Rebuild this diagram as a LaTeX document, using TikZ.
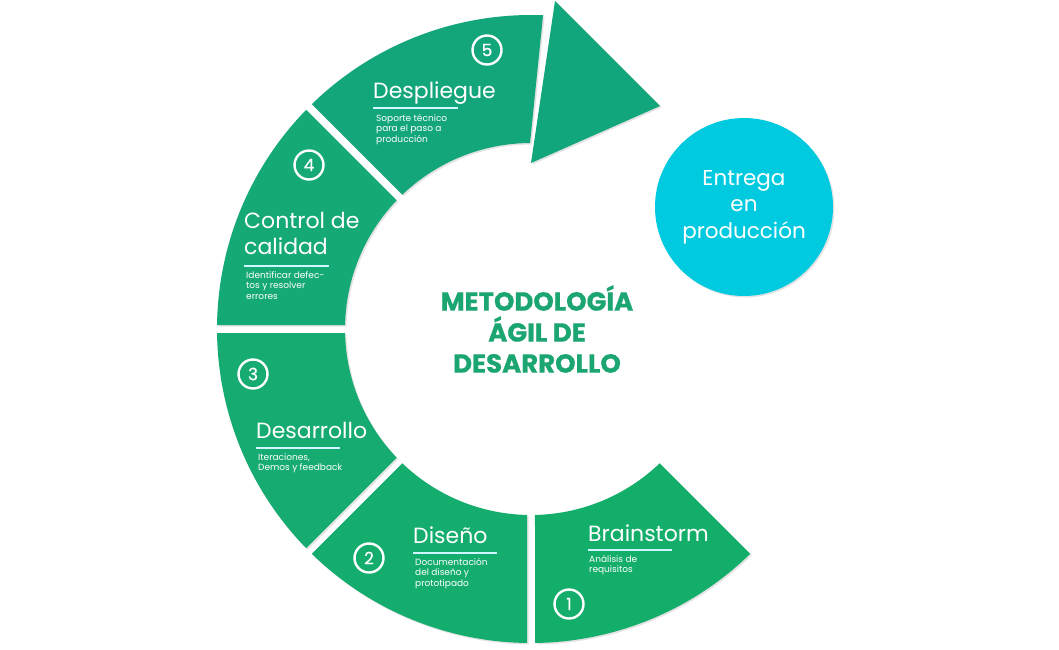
\documentclass[tikz,border=0pt]{standalone}
\usepackage{fontspec}
\setmainfont{Poppins}
\newfontfamily\heavyfont{Poppins}[BoldFeatures={FakeBold=0.7}]
\newfontfamily\numfont{Poppins}[FakeBold=0.6]
\usetikzlibrary{calc,shadows}

\definecolor{segone}{HTML}{14AE6B}
\definecolor{segtwo}{HTML}{14AD6E}
\definecolor{segthree}{HTML}{15AB71}
\definecolor{segfour}{HTML}{15A975}
\definecolor{segfive}{HTML}{13A67B}
\definecolor{arrowgreen}{HTML}{12A67D}
\definecolor{bubblecyan}{HTML}{00CADF}
\definecolor{titlegreen}{HTML}{1BA570}
\definecolor{rulecyan}{HTML}{CFF7FF}

\tikzset{
  segshadow/.style={drop shadow={opacity=0.22,shadow xshift=1.5pt,shadow yshift=-1.5pt}},
  numring/.style={circle,draw=white,line width=2.4pt,minimum size=29pt,inner sep=0pt,
    text=white,font=\numfont\fontsize{17}{17}\selectfont},
  steptitle/.style={anchor=base west,inner sep=0pt,text=white,align=left,
    font=\fontsize{22}{26}\selectfont},
  stepnote/.style={anchor=north west,inner sep=0pt,align=left,text=white,
    font=\fontsize{9}{10.5}\selectfont},
  stepline/.style={draw=rulecyan,line width=1.8pt},
}

\begin{document}
\begin{tikzpicture}[x=1pt,y=1pt]
  \useasboundingbox (0,0) rectangle (1059,-649);
  \fill[white] (0,0) rectangle (1059,-649);
  \coordinate (O) at (531,-329);
  \def\ringout{314}
  \def\ringin{186}

  % ring pieces 1 to 4
  \foreach \a/\b/\col in {270/315/segone, 225/270/segtwo, 180/225/segthree, 135/180/segfour} {
    \fill[\col,segshadow] ($(O)+(\a+0.73:\ringout)$)
      arc[start angle=\a+0.73, end angle=\b-0.73, radius=\ringout]
      -- ($(O)+(\b-1.23:\ringin)$)
      arc[start angle=\b-1.23, end angle=\a+1.23, radius=\ringin] -- cycle;
  }
  % piece 5 and the arrow head
  \fill[segfive,segshadow] ($(O)+(87.8:\ringout)$) -- ($(O)+(90.3:\ringin)$)
    arc[start angle=90.3, end angle=133.77, radius=\ringin]
    -- ($(O)+(134.27:\ringout)$)
    arc[start angle=134.27, end angle=87.8, radius=\ringout] -- cycle;
  \fill[arrowgreen,segshadow] (555,-1) -- (660,-106) -- (531,-163) -- cycle;

  % delivery bubble
  \node[circle,fill=bubblecyan,minimum size=178pt,inner sep=0pt,segshadow] (bubble) at (744,-207) {};
  \node[text=white,align=center,font=\fontsize{21.5}{26.5}\selectfont] (deliver) at (744,-207)
    {Entrega\\en\\producción};

  % centre title
  \node[text=titlegreen,align=center,font=\heavyfont\bfseries\fontsize{26}{31}\selectfont] (method) at (537,-329)
    {METODOLOGÍA\\ÁGIL DE\\DESARROLLO};

  % numbers
  \node[numring] (n1) at (569,-604) {1};
  \node[numring] (n2) at (369,-558) {2};
  \node[numring] (n3) at (253,-374) {3};
  \node[numring] (n4) at (309,-165) {4};
  \node[numring] (n5) at (487,-50) {5};

  % step 1
  \node[steptitle] (t1) at (588,-541) {Brainstorm};
  \draw[stepline] (588,-550) -- (672,-550);
  \node[stepnote] (d1) at (589,-555) {Análisis de\\requisitos};
  % step 2
  \node[steptitle] (t2) at (413,-543) {Diseño};
  \draw[stepline] (413,-553) -- (497,-553);
  \node[stepnote] (d2) at (415,-558) {Documentación\\del diseño y\\prototipado};
  % step 3
  \node[steptitle] (t3) at (256,-438) {Desarrollo};
  \draw[stepline] (256,-448) -- (340,-448);
  \node[stepnote] (d3) at (258,-453) {Iteraciones,\\Demos y feedback};
  % step 4
  \node[steptitle] (t4) at (244,-254) {Control de\\calidad};
  \draw[stepline] (244,-266) -- (329,-266);
  \node[stepnote] (d4) at (246,-271) {Identificar defec-\\tos y resolver\\errores};
  % step 5
  \node[steptitle] (t5) at (373,-98) {Despliegue};
  \draw[stepline] (373,-108) -- (458,-108);
  \node[stepnote] (d5) at (376,-114) {Soporte técnico\\para el paso a\\producción};
\end{tikzpicture}
\end{document}
